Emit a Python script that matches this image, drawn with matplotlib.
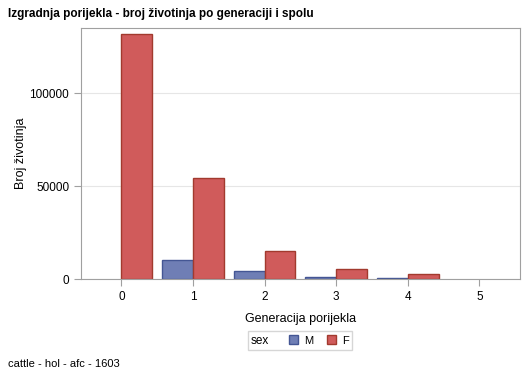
import matplotlib
matplotlib.use("Agg")
import matplotlib.pyplot as plt
import numpy as np
from matplotlib.patches import Patch
from matplotlib.offsetbox import HPacker

plt.rcParams['font.family'] = ['Liberation Sans', 'DejaVu Sans']

generations = [0, 1, 2, 3, 4, 5]
males = [0, 10200, 4300, 1100, 500, 0]
females = [132000, 54300, 15000, 5400, 2800, 0]

m_fill, m_edge = '#6F7EB5', '#445694'
f_fill, f_edge = '#D05B5B', '#A23A2E'
axis_col = '#A0A0A0'

fig = plt.figure(figsize=(5.29, 3.78), dpi=100)
ax = fig.add_axes([81 / 529, 1 - 279 / 378, 439 / 529, 251 / 378])

x = np.array(generations)
m = np.array(males)
f = np.array(females)
w = 0.43
# empty groups get no bar at all (no zero-height outline)
ax.bar(x[m > 0], m[m > 0], width=-w, align='edge', color=m_fill, edgecolor=m_edge, linewidth=1)
ax.bar(x[f > 0], f[f > 0], width=w, align='edge', color=f_fill, edgecolor=f_edge, linewidth=1)

ax.set_xlim(-0.563, 5.568)
ax.set_ylim(0, 135000)
ax.set_xticks(generations)
ax.set_yticks([0, 50000, 100000])
ax.set_yticklabels(['0', '50000', '100000'])
ax.yaxis.grid(True, color='#E6E6E6', linewidth=0.8)
ax.set_axisbelow(True)

for s in ax.spines.values():
    s.set_color(axis_col)
ax.tick_params(colors=axis_col, labelcolor='black', labelsize=8.5, length=5)

ax.set_xlabel('Generacija porijekla', fontsize=9, labelpad=7)
ax.set_ylabel('Broj životinja', fontsize=9, labelpad=2)

fig.text(8 / 529, 1 - 14 / 378, 'Izgradnja porijekla - broj životinja po generaciji i spolu',
         fontsize=8.5, fontweight='bold', va='center', ha='left')
fig.text(8 / 529, 1 - 364 / 378, 'cattle - hol - afc - 1603', fontsize=8, va='center', ha='left')

handles = [Patch(facecolor=m_fill, edgecolor=m_edge, label='M'),
           Patch(facecolor=f_fill, edgecolor=f_edge, label='F')]
leg = fig.legend(handles=handles, loc='center', bbox_to_anchor=(300 / 529, 1 - 340.5 / 378),
                 ncol=2, title='sex', fontsize=8, title_fontsize=8.5, frameon=True,
                 fancybox=False, edgecolor='#CCCCCC', handlelength=0.8, handleheight=0.8,
                 handletextpad=0.6, columnspacing=1.2, borderpad=0.3, borderaxespad=0)
# title sits to the left of the entries, on the same line
leg._legend_box._children = [HPacker(pad=0, sep=14, align='center',
                                     children=[leg._legend_title_box, leg._legend_handle_box])]

fig.savefig('out.png', dpi=100)
